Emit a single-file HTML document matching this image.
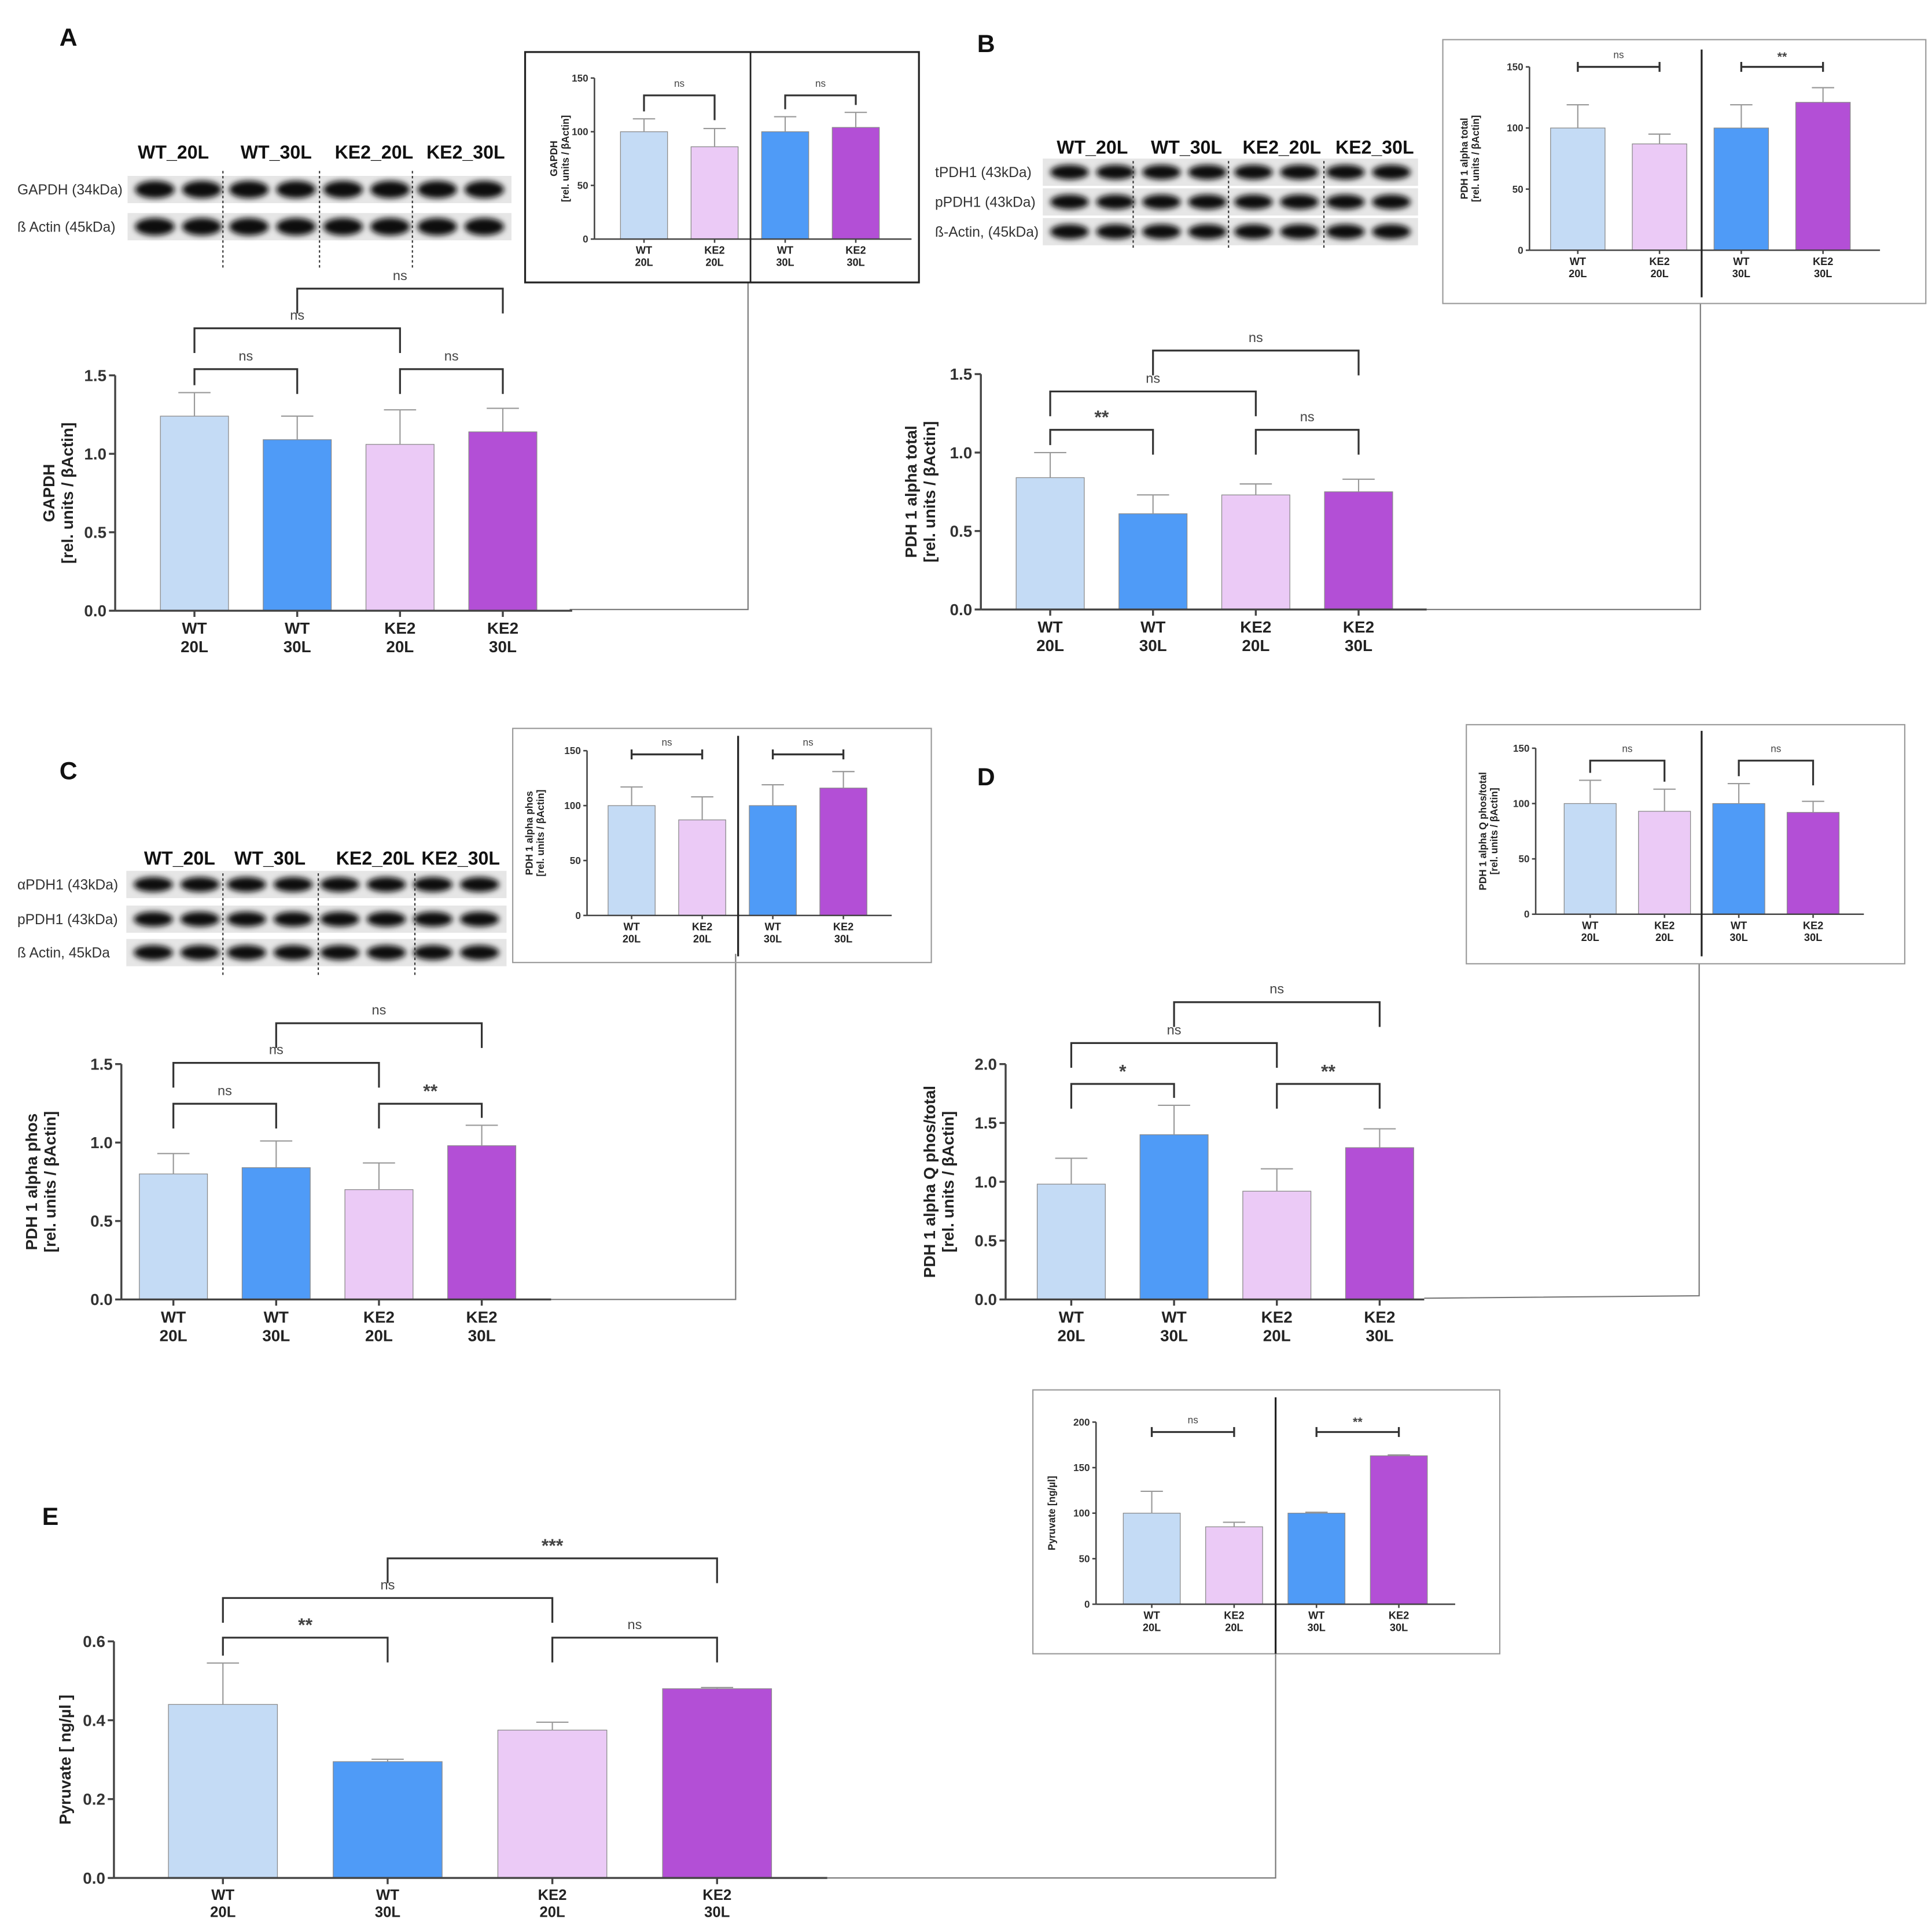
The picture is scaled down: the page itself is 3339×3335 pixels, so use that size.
<!DOCTYPE html>
<html><head><meta charset="utf-8"><style>
html,body{margin:0;padding:0;background:#fff}
svg{display:block}
text{font-family:"Liberation Sans",Arial,sans-serif}
</style></head><body>
<svg id="fig" width="3339" height="3335" viewBox="0 0 1560 1558" preserveAspectRatio="none" xmlns="http://www.w3.org/2000/svg">
<defs><filter id="blur" x="-20%" y="-50%" width="140%" height="200%"><feGaussianBlur stdDeviation="2.2"/></filter></defs>
</svg>
<script>
// ---------- data ----------
const mainCategories = [["WT","20L"],["WT","30L"],["KE2","20L"],["KE2","30L"]];
const insetCategories = [["WT","20L"],["KE2","20L"],["WT","30L"],["KE2","30L"]];
const mainColors = ["#c4dbf5","#4f9bf7","#ebcaf6","#b34fd6"];
const insetColors = ["#c4dbf5","#ebcaf6","#4f9bf7","#b34fd6"];

const aValues = [1.24,1.09,1.06,1.14];
const aErrors = [0.15,0.15,0.22,0.15];
const aTicks = ["0.0","0.5","1.0","1.5"];
const aInsetValues = [100,86,100,104];
const aInsetErrors = [12,17,14,14];

const bValues = [0.84,0.61,0.73,0.75];
const bErrors = [0.16,0.12,0.07,0.08];
const bInsetValues = [100,87,100,121];
const bInsetErrors = [19,8,19,12];

const cValues = [0.80,0.84,0.70,0.98];
const cErrors = [0.13,0.17,0.17,0.13];
const cInsetValues = [100,87,100,116];
const cInsetErrors = [17,21,19,15];

const dValues = [0.98,1.40,0.92,1.29];
const dErrors = [0.22,0.25,0.19,0.16];
const dTicks = ["0.0","0.5","1.0","1.5","2.0"];
const dInsetValues = [100,93,100,92];
const dInsetErrors = [21,20,18,10];

const eValues = [0.44,0.295,0.375,0.48];
const eErrors = [0.105,0.006,0.02,0.003];
const eTicks = ["0.0","0.2","0.4","0.6"];
const eInsetValues = [100,85,100,163];
const eInsetErrors = [24,5,1,1];

const insetTicks = ["0","50","100","150"];
const eInsetTicks = ["0","50","100","150","200"];

// ---------- helpers ----------
const svg = document.getElementById('fig');
const NS = 'http://www.w3.org/2000/svg';
function mk(tag, attrs, parent, txt){
  const el = document.createElementNS(NS, tag);
  for (const k in attrs) el.setAttribute(k, attrs[k]);
  if (txt !== undefined) el.textContent = txt;
  (parent || svg).appendChild(el);
  return el;
}
function line(x1,y1,x2,y2,stroke,w,p){return mk('line',{x1,y1,x2,y2,stroke:stroke,'stroke-width':w},p);}

function chart(c){
  const g = mk('g',{});
  
  
  const ymax = parseFloat(c.ticks[c.ticks.length-1]);
  const y = v => c.y0 - (v/ymax)*(c.y0-c.ytop);
  const x = i => c.x0b + i*c.step;
  // bars + errors
  c.values.forEach((v,i)=>{
    const cx = x(i);
    const r = mk('rect',{x:cx-c.bw/2,y:y(v),width:c.bw,height:c.y0-y(v),fill:c.colors[i],stroke:'#8a8a8a','stroke-width':0.6},g);
    
    
    const top = y(v+c.errors[i]);
    line(cx,y(v),cx,top,'#999',1,g);
    line(cx-c.cap,top,cx+c.cap,top,'#999',1,g);
  });
  // axes
  line(c.ax,c.ytop,c.ax,c.y0,'#444',c.lw,g);
  line(c.ax,c.y0,c.axEnd,c.y0,'#444',c.lw,g);
  c.ticks.forEach((t,i)=>{
    const yy = y(parseFloat(t));
    line(c.ax-c.tk,yy,c.ax,yy,'#444',c.lw,g);
    const tt = mk('text',{x:c.ax-c.tk-2,y:yy+c.fs*0.35,'font-size':c.fs,'font-weight':'bold','text-anchor':'end',fill:'#333'},g,t);
    
    
  });
  c.cats.forEach((cat,i)=>{
    const cx = x(i);
    line(cx,c.y0,cx,c.y0+c.tk,'#444',c.lw,g);
    cat.forEach((s,j)=>{
      const tt = mk('text',{x:cx,y:c.y0+c.tk+c.xfs*(1.05+j*1.15),'font-size':c.xfs,'font-weight':'bold','text-anchor':'middle',fill:'#222'},g,s);
      
      
    });
  });
  // y title
  const tx = c.titleX, ty=(c.y0+c.ytop)/2;
  const tg = mk('text',{transform:`translate(${tx},${ty}) rotate(-90)`,'font-size':c.tfs,'font-weight':'bold','text-anchor':'middle',fill:'#222'},g);
  
  
  mk('tspan',{x:0,dy:0},tg,c.title[0]);
  mk('tspan',{x:0,dy:c.tfs*1.15},tg,c.title[1]);
  // brackets
  (c.brackets||[]).forEach(b=>{
    const [i,j,by,lab,caps] = b;
    const xa=x(i), xb=x(j);
    const bg = mk('g',{},g);
    
    
    if (caps){
      line(xa,by,xb,by,'#333',c.lw*1.3,bg);
      line(xa,by-4,xa,by+4,'#333',c.lw*1.3,bg);
      line(xb,by-4,xb,by+4,'#333',c.lw*1.3,bg);
    } else {
      const ya = y(c.values[i]+c.errors[i])-6, yb = y(c.values[j]+c.errors[j])-6;
      mk('polyline',{points:`${xa},${Math.min(ya,by+20)} ${xa},${by} ${xb},${by} ${xb},${Math.min(yb,by+20)}`,fill:'none',stroke:'#333','stroke-width':1.5},bg);
    }
    const star = lab!=='ns';
    mk('text',{x:(xa+xb)/2,y:by-(star?5:7),'font-size':star?c.sfs:c.nfs,'font-weight':star?'bold':'normal','text-anchor':'middle',fill:'#444'},bg,lab);
  });
  return g;
}

function box(x,y,w,h,stroke,sw,name){
  const r=mk('rect',{x,y,width:w,height:h,fill:'none',stroke,'stroke-width':sw});
  
  
}
function connector(pts,name){
  const p=mk('polyline',{points:pts,fill:'none',stroke:'#777','stroke-width':1});
  
  
}
function panelLabel(x,y,t){
  const e=mk('text',{x,y,'font-size':20,'font-weight':'bold',fill:'#111'},svg,t);
  
  
}
function blot(cfg){
  const g=mk('g',{});
  
  
  cfg.groups.forEach((s,i)=>mk('text',{x:cfg.gx[i],y:cfg.gy,'font-size':15,'font-weight':'bold',fill:'#111','text-anchor':'middle'},g,s));
  cfg.rows.forEach((r,ri)=>{
    mk('text',{x:cfg.lx,y:cfg.ry[ri]+4,'font-size':11.5,fill:'#333'},g,r);
    mk('rect',{x:cfg.x0-3,y:cfg.ry[ri]-11,width:cfg.x1-cfg.x0+6,height:22,fill:'#e6e6e6'},g);
    const n=8, lw=(cfg.x1-cfg.x0)/n;
    for(let k=0;k<n;k++){
      mk('ellipse',{cx:cfg.x0+lw*(k+0.5),cy:cfg.ry[ri],rx:lw*0.42,ry:cfg.bh[ri],fill:'#111',filter:'url(#blur)'},g);
    }
  });
  cfg.div.forEach(dx=>mk('line',{x1:dx,y1:cfg.dy0,x2:dx,y2:cfg.dy1,stroke:'#333','stroke-width':1,'stroke-dasharray':'2,2'},g));
}

const mainStyle = {lw:1.6,tk:5,fs:13,xfs:13,tfs:13,nfs:11,sfs:15,cap:13,colors:mainColors,cats:mainCategories};
const insetStyle = {lw:1.2,tk:3,fs:8,xfs:8.5,tfs:8,nfs:8,sfs:10,cap:9,colors:insetColors,cats:insetCategories,ticks:insetTicks};

// ---------- Panel A ----------
panelLabel(48,37,'A');
blot({name:'western-blot-a',groups:['WT_20L','WT_30L','KE2_20L','KE2_30L'],gx:[140,223,302,376],gy:128,
  rows:['GAPDH (34kDa)','ß Actin (45kDa)'],ry:[153,183],bh:[7,7],lx:14,x0:106,x1:410,div:[180,258,333],dy0:138,dy1:217});
connector('460,492 604,492 604,228','connector-a');
chart(Object.assign({},mainStyle,{name:'chart-a',values:aValues,errors:aErrors,ticks:aTicks,
  ax:93,axEnd:462,y0:493,ytop:303,x0b:157,step:83,bw:55,titleX:44,title:['GAPDH','[rel. units / βActin]'],
  brackets:[[0,1,298,'ns'],[2,3,298,'ns'],[0,2,265,'ns'],[1,3,233,'ns']]}));
mk('rect',{x:424,y:42,width:318,height:186,fill:'none',stroke:'#222','stroke-width':1.5});
chart(Object.assign({},insetStyle,{name:'inset-chart-a',values:aInsetValues,errors:aInsetErrors,
  ax:480,axEnd:736,y0:193,ytop:63,x0b:520,step:57,bw:38,titleX:450,title:['GAPDH','[rel. units / βActin]'],
  brackets:[[0,1,77,'ns'],[2,3,77,'ns']]}));
line(606,42,606,228,'#222',1.3);

// ---------- Panel B ----------
panelLabel(789,42,'B');
blot({name:'western-blot-b',groups:['WT_20L','WT_30L','KE2_20L','KE2_30L'],gx:[882,958,1035,1110],gy:124,
  rows:['tPDH1 (43kDa)','pPDH1 (43kDa)','ß-Actin, (45kDa)'],ry:[139,163,187],bh:[6,6,6],lx:755,x0:845,x1:1142,div:[915,992,1069],dy0:130,dy1:202});
connector('1152,492 1373,492 1373,245','connector-b');
chart(Object.assign({},mainStyle,{name:'chart-b',values:bValues,errors:bErrors,ticks:aTicks,
  ax:792,axEnd:1152,y0:492,ytop:302,x0b:848,step:83,bw:55,titleX:740,title:['PDH 1 alpha total','[rel. units / βActin]'],
  brackets:[[0,1,347,'**'],[2,3,347,'ns'],[0,2,316,'ns'],[1,3,283,'ns']]}));
box(1165,32,390,213,'#999',1,'inset-box-b');
chart(Object.assign({},insetStyle,{name:'inset-chart-b',values:bInsetValues,errors:bInsetErrors,
  ax:1235,axEnd:1518,y0:202,ytop:54,x0b:1274,step:66,bw:44,titleX:1185,title:['PDH 1 alpha total','[rel. units / βActin]'],
  brackets:[[0,1,54,'ns',true],[2,3,54,'**',true]]}));
line(1374,40,1374,240,'#222',1.5);

// ---------- Panel C ----------
panelLabel(48,629,'C');
blot({name:'western-blot-c',groups:['WT_20L','WT_30L','KE2_20L','KE2_30L'],gx:[145,218,303,372],gy:698,
  rows:['αPDH1 (43kDa)','pPDH1 (43kDa)','ß Actin, 45kDa'],ry:[714,742,769],bh:[6,6,6],lx:14,x0:105,x1:406,div:[180,257,335],dy0:705,dy1:787});
connector('445,1049 594,1049 594,770','connector-c');
chart(Object.assign({},mainStyle,{name:'chart-c',values:cValues,errors:cErrors,ticks:aTicks,
  ax:98,axEnd:445,y0:1049,ytop:859,x0b:140,step:83,bw:55,titleX:30,title:['PDH 1 alpha phos','[rel. units / βActin]'],
  brackets:[[0,1,891,'ns'],[2,3,891,'**'],[0,2,858,'ns'],[1,3,826,'ns']]}));
box(414,588,338,189,'#999',1,'inset-box-c');
chart(Object.assign({},insetStyle,{name:'inset-chart-c',values:cInsetValues,errors:cInsetErrors,
  ax:474,axEnd:720,y0:739,ytop:606,x0b:510,step:57,bw:38,titleX:430,title:['PDH 1 alpha phos','[rel. units / βActin]'],
  brackets:[[0,1,609,'ns',true],[2,3,609,'ns',true]]}));
line(596,594,596,772,'#222',1.5);

// ---------- Panel D ----------
panelLabel(789,634,'D');
connector('1150,1048 1372,1046 1372,778','connector-d');
chart(Object.assign({},mainStyle,{name:'chart-d',values:dValues,errors:dErrors,ticks:dTicks,
  ax:812,axEnd:1150,y0:1049,ytop:859,x0b:865,step:83,bw:55,titleX:755,title:['PDH 1 alpha Q phos/total','[rel. units / βActin]'],
  brackets:[[0,1,875,'*'],[2,3,875,'**'],[0,2,842,'ns'],[1,3,809,'ns']]}));
box(1184,585,354,193,'#999',1,'inset-box-d');
chart(Object.assign({},insetStyle,{name:'inset-chart-d',values:dInsetValues,errors:dInsetErrors,
  ax:1240,axEnd:1505,y0:738,ytop:604,x0b:1284,step:60,bw:42,titleX:1200,title:['PDH 1 alpha Q phos/total','[rel. units / βActin]'],
  brackets:[[0,1,614,'ns'],[2,3,614,'ns']]}));
line(1374,590,1374,772,'#222',1.5);

// ---------- Panel E ----------
panelLabel(34,1231,'E');
connector('668,1516 1030,1516 1030,1128','connector-e');
chart(Object.assign({},mainStyle,{name:'chart-e',values:eValues,errors:eErrors,ticks:eTicks,
  ax:92,axEnd:668,y0:1516,ytop:1325,x0b:180,step:133,bw:88,xfs:12,titleX:57,title:['Pyruvate [ ng/µl ]',''],
  brackets:[[0,1,1322,'**'],[2,3,1322,'ns'],[0,2,1290,'ns'],[1,3,1258,'***']]}));
box(834,1122,377,213,'#999',1,'inset-box-e');
chart(Object.assign({},insetStyle,{name:'inset-chart-e',values:eInsetValues,errors:eInsetErrors,ticks:eInsetTicks,
  ax:885,axEnd:1175,y0:1295,ytop:1148,x0b:930,step:66.5,bw:46,titleX:852,title:['Pyruvate [ng/µl]',''],
  brackets:[[0,1,1156,'ns',true],[2,3,1156,'**',true]]}));
line(1030,1128,1030,1335,'#222',1.5);
</script>
</body></html>
